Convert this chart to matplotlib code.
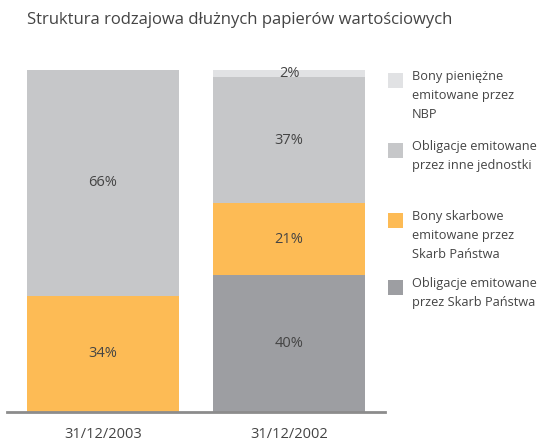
import matplotlib.pyplot as plt
from matplotlib.patches import Rectangle

plt.rcParams['font.family'] = ['Open Sans', 'DejaVu Sans']

dates = ['31/12/2003', '31/12/2002']
# shares in % per category, bottom to top
oblig_sp = [0, 40]     # Obligacje emitowane przez Skarb Panstwa
bony_sp = [34, 21]     # Bony skarbowe emitowane przez Skarb Panstwa
oblig_inne = [66, 37]  # Obligacje emitowane przez inne jednostki
bony_nbp = [0, 2]      # Bony pieniezne emitowane przez NBP

series = [
    (oblig_sp, '#9d9ea2', 'Obligacje emitowane\nprzez Skarb Państwa'),
    (bony_sp, '#fdbb55', 'Bony skarbowe\nemitowane przez\nSkarb Państwa'),
    (oblig_inne, '#c6c7c9', 'Obligacje emitowane\nprzez inne jednostki'),
    (bony_nbp, '#e1e2e4', 'Bony pieniężne\nemitowane przez\nNBP'),
]

W, H = 542, 443
fig = plt.figure(figsize=(W / 100, H / 100), dpi=100)
ax = fig.add_axes([7 / W, (H - 412) / H, 378 / W, 342 / H])

txt = '#444444'
x = list(range(len(dates)))
bottom = [0] * len(dates)
for vals, color, label in series:
    ax.bar(x, vals, width=0.817, bottom=bottom, color=color, linewidth=0)
    for i, v in enumerate(vals):
        if v > 0:
            ax.text(x[i], bottom[i] + v / 2, f'{v}%', ha='center', va='center',
                    fontsize=10.5, color=txt)
    bottom = [b + v for b, v in zip(bottom, vals)]

ax.set_xlim(-0.516, 1.516)
ax.set_ylim(0, 100)
ax.set_xticks(x)
ax.set_xticklabels(dates, fontsize=10.5, color=txt)
ax.tick_params(axis='x', length=0, pad=11)
ax.set_yticks([])
for s in ['top', 'left', 'right']:
    ax.spines[s].set_visible(False)
ax.spines['bottom'].set_color('#8c8c8c')
ax.spines['bottom'].set_linewidth(2)

fig.text(27 / W, 1 - 20 / H, 'Struktura rodzajowa dłużnych papierów wartościowych',
         fontsize=12, color=txt, va='center', ha='left')

# legend, top entry first
leg_tops = [73, 143, 213, 280]
for (vals, color, label), top in zip(reversed(series), leg_tops):
    fig.add_artist(Rectangle((388 / W, 1 - (top + 15) / H), 15 / W, 15 / H,
                             transform=fig.transFigure, color=color, lw=0))
    fig.text(412 / W, 1 - (top - 3) / H, label, fontsize=9.2, color=txt,
             va='top', ha='left', linespacing=1.6)

fig.savefig('out.png', dpi=100)
